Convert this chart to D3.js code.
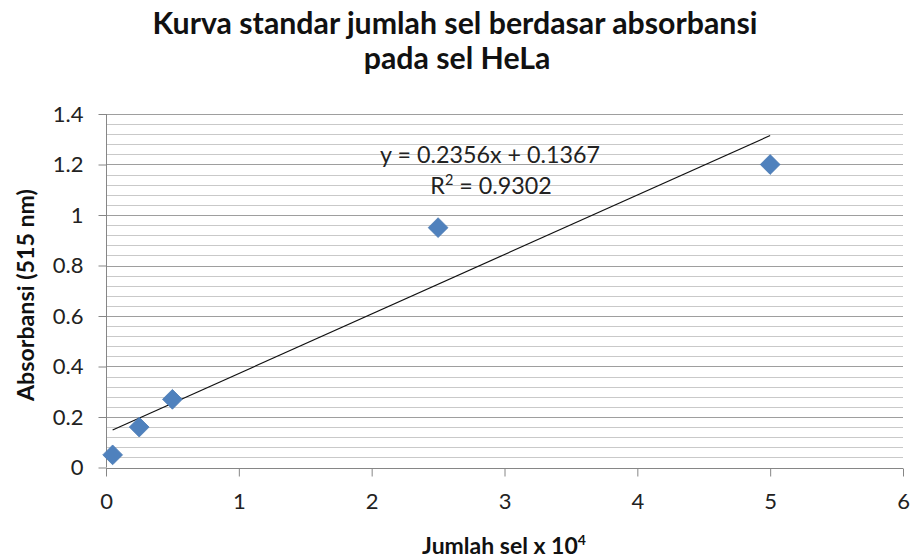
<!DOCTYPE html>
<html><head><meta charset="utf-8">
<script src="https://cdn.jsdelivr.net/npm/d3@7"></script>
<style>body{margin:0;background:#fff;} svg{display:block;} text{font-family:Lato,"Open Sans",sans-serif;}</style>
</head><body>
<svg id="c" width="913" height="558"></svg>
<script>
const xValues = [0.05, 0.25, 0.5, 2.5, 5];
const yValues = [0.05, 0.16, 0.27, 0.95, 1.2];
const xTicks = [0, 1, 2, 3, 4, 5, 6];
const yTicks = [0, 0.2, 0.4, 0.6, 0.8, 1, 1.2, 1.4];
const slope = 0.2356, intercept = 0.1367, r2 = 0.9302;
const titleLines = ["Kurva standar jumlah sel berdasar absorbansi", "pada sel HeLa"];
const xLabel = "Jumlah sel x 10";
const yLabel = "Absorbansi (515 nm)";

const svg = d3.select("#c");
const L = 106, R = 903, T = 114, B = 467.5;
const x = d3.scaleLinear().domain([0, 6]).range([L, R]);
const y = d3.scaleLinear().domain([0, 1.4]).range([B, T]);

function fit(sel, w) {
  const fs = +sel.attr("font-size");
  const cw = sel.node().getComputedTextLength();
  sel.attr("font-size", (fs * w / cw).toFixed(2));
}

// minor gridlines
const minor = d3.range(0, 1.4001, 0.04).filter(v => Math.abs(Math.round(v / 0.2) * 0.2 - v) > 1e-6);
svg.append("g").selectAll("line").data(minor).join("line")
  .attr("x1", L).attr("x2", R).attr("y1", d => Math.round(y(d)) + 0.5).attr("y2", d => Math.round(y(d)) + 0.5)
  .attr("stroke", "#c9c9c9").attr("stroke-width", 1);
// major gridlines
svg.append("g").selectAll("line").data(yTicks.slice(1)).join("line")
  .attr("x1", L).attr("x2", R).attr("y1", d => Math.round(y(d)) + 0.5).attr("y2", d => Math.round(y(d)) + 0.5)
  .attr("stroke", "#9e9e9e").attr("stroke-width", 1);

// axes
const yAxis = d3.axisLeft(y).tickValues(yTicks).tickSize(8).tickFormat(d => d3.format("")(+d.toFixed(1)));
const gy = svg.append("g").attr("transform", `translate(${L + 0.5},0)`).call(yAxis);
gy.select(".domain").attr("stroke", "#868686").attr("d", `M0,${T}V${B}`);
gy.selectAll(".tick line").attr("stroke", "#868686");
gy.selectAll(".tick text").attr("x", -23).attr("font-size", 22).attr("fill", "#222").attr("font-family", "Lato,sans-serif");

const xAxis = d3.axisBottom(x).tickValues(xTicks).tickSize(8).tickFormat(d3.format("d"));
const gx = svg.append("g").attr("transform", `translate(0,${Math.round(B) + 0.5})`).call(xAxis);
gx.select(".domain").attr("stroke", "#868686").attr("d", `M${L},0H${R}`);
gx.selectAll(".tick line").attr("stroke", "#868686");
gx.selectAll(".tick text").attr("y", 25).attr("font-size", 22).attr("fill", "#222").attr("font-family", "Lato,sans-serif");

// trendline
const xMin = d3.min(xValues), xMax = d3.max(xValues);
svg.append("line")
  .attr("x1", x(xMin)).attr("y1", y(slope * xMin + intercept))
  .attr("x2", x(xMax)).attr("y2", y(slope * xMax + intercept))
  .attr("stroke", "#111").attr("stroke-width", 1.2);

// markers
const diamond = d3.symbol().type(d3.symbolDiamond2).size(250);
svg.append("g").selectAll("path").data(xValues.map((v, i) => [v, yValues[i]])).join("path")
  .attr("d", diamond)
  .attr("transform", d => `translate(${x(d[0])},${y(d[1])})`)
  .attr("fill", "#4f81bd").attr("stroke", "#4a7ab3").attr("stroke-width", 0.8);

// equation
const eq = svg.append("text").attr("x", 490).attr("y", 163).attr("text-anchor", "middle")
  .attr("font-size", 21).attr("fill", "#222").text(`y = ${slope}x + ${intercept}`);
fit(eq, 220);
const efs = +eq.attr("font-size");
const rt = svg.append("text").attr("x", 491).attr("y", 194).attr("text-anchor", "middle")
  .attr("font-size", efs).attr("fill", "#222");
rt.append("tspan").text("R");
rt.append("tspan").attr("font-size", efs * 0.62).attr("dy", -9).text("2");
rt.append("tspan").attr("dy", 9).text(` = ${r2}`);

// title
const t1 = svg.append("text").attr("x", 455).attr("y", 34).attr("text-anchor", "middle")
  .attr("font-size", 25).attr("font-weight", "bold").attr("fill", "#111").text(titleLines[0]);
fit(t1, 605);
svg.append("text").attr("x", 457).attr("y", 69).attr("text-anchor", "middle")
  .attr("font-size", t1.attr("font-size")).attr("font-weight", "bold").attr("fill", "#111").text(titleLines[1]);

// x label
const xl = svg.append("text").attr("x", 504).attr("y", 554).attr("text-anchor", "middle")
  .attr("font-size", 23).attr("font-weight", "bold").attr("fill", "#111");
xl.append("tspan").text(xLabel);
xl.append("tspan").attr("font-size", 14).attr("dy", -9).text("4");

// y label
const yl = svg.append("text").attr("transform", `translate(34,295) rotate(-90)`).attr("text-anchor", "middle")
  .attr("font-size", 20).attr("font-weight", "bold").attr("fill", "#111").text(yLabel);
fit(yl, 212);
</script>
</body></html>
